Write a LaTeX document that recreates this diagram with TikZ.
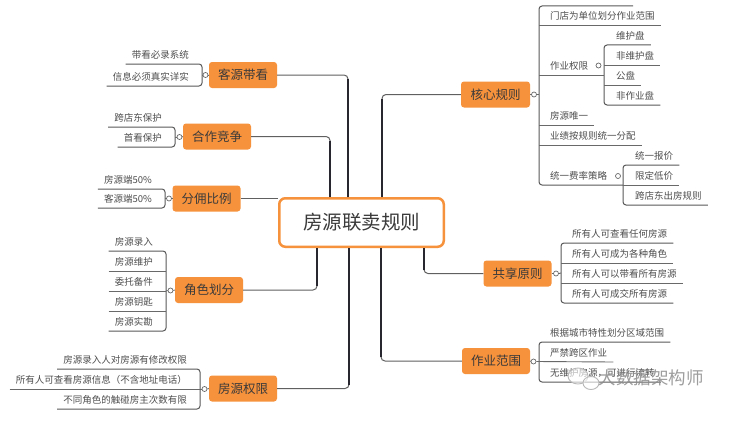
\documentclass[tikz,border=0pt]{standalone}
\usepackage{fontspec}
\newfontfamily\cjk{Noto Sans CJK SC}
\definecolor{orng}{RGB}{247,146,60}
\definecolor{txt}{RGB}{58,58,58}
\definecolor{leaftxt}{RGB}{78,78,78}
\definecolor{lin}{RGB}{105,105,105}
\definecolor{dark}{RGB}{40,38,46}
\tikzset{
  mainbox/.style={fill=orng, rounded corners=3pt, minimum width=68pt, minimum height=26pt, inner sep=0pt, font=\cjk\fontsize{12.5}{14}\selectfont, text=txt},
  rootbox/.style={draw=orng, line width=2.5pt, fill=white, rounded corners=6pt, minimum width=164.5pt, minimum height=48.5pt, inner sep=0pt, font=\cjk\fontsize{19.5}{22}\selectfont, text=txt},
  leafbase/.style={inner xsep=6pt, inner ysep=4pt, font=\cjk\fontsize{9.5}{11}\selectfont, text=leaftxt, text height=8pt, text depth=1.5pt},
  leafL/.style={leafbase, anchor=south east},
  leafR/.style={leafbase, anchor=south west},
  uline/.style={draw=lin, line width=0.9pt},
  brk/.style={draw=lin!85!black, line width=1pt, rounded corners=3pt},
  hconn/.style={draw=gray!75!black, line width=1pt, rounded corners=4pt},
  vconn/.style={draw=dark, line width=2pt, shorten >=4pt},
  knob/.style={circle, draw=lin, fill=white, line width=0.7pt, minimum size=5pt, inner sep=0pt},
}
\begin{document}
\begin{tikzpicture}[x=1pt,y=-1pt]
\useasboundingbox[fill=white] (0,0) rectangle (754,428);

% root and main topics
\node[rootbox] (root) at (361.5,222.5) {房源联卖规则};
\node[mainbox] (kyd) at (243,75) {客源带看};
\node[mainbox] (hzjz) at (217,136.5) {合作竞争};
\node[mainbox] (fybl) at (206.5,198.5) {分佣比例};
\node[mainbox] (jshf) at (209,290) {角色划分};
\node[mainbox] (fyqx) at (243,388.5) {房源权限};
\node[mainbox,minimum width=69pt] (hxgz) at (495.5,94.5) {核心规则};
\node[mainbox] (gxyz) at (517.5,273.5) {共享原则};
\node[mainbox] (zyfw) at (496,361) {作业范围};

% root connectors
\draw[hconn] ([xshift=-13.5pt]root.north) |- (kyd.east);
\draw[vconn] ([xshift=-13.5pt]root.north) -- ([xshift=-13.5pt]root.north |- kyd.east);
\draw[hconn] ([xshift=-31.5pt]root.north) |- (hzjz.east);
\draw[vconn] ([xshift=-31.5pt]root.north) -- ([xshift=-31.5pt]root.north |- hzjz.east);
\draw[hconn] (fybl.east) -- (fybl.east -| root.west);
\draw[hconn] ([xshift=-44.5pt]root.south) |- (jshf.east);
\draw[vconn] ([xshift=-44.5pt]root.south) -- ([xshift=-44.5pt]root.south |- jshf.east);
\draw[hconn] ([xshift=-12.5pt]root.south) |- (fyqx.east);
\draw[vconn] ([xshift=-12.5pt]root.south) -- ([xshift=-12.5pt]root.south |- fyqx.east);
\draw[hconn] ([xshift=20.5pt]root.north) |- (hxgz.west);
\draw[vconn] ([xshift=20.5pt]root.north) -- ([xshift=20.5pt]root.north |- hxgz.west);
\draw[hconn] ([xshift=62.5pt]root.south) |- (gxyz.west);
\draw[vconn] ([xshift=62.5pt]root.south) -- ([xshift=62.5pt]root.south |- gxyz.west);
\draw[hconn] ([xshift=19.5pt]root.south) |- (zyfw.west);
\draw[vconn] ([xshift=19.5pt]root.south) -- ([xshift=19.5pt]root.south |- zyfw.west);

% ---- 客源带看
\coordinate (kb) at (202,75);
\node[knob] (kk) at (205.5,75) {};
\node[leafL] (k1) at (195,64) {带看必录系统};
\node[leafL] (k2) at (195,86) {信息必须真实详实};
\draw[brk] (k1.south west) -- (k1.south -| kb) -- (k2.south -| kb) -- (k2.south west);
\draw[uline] (kb) -- (kk.west);
\draw[uline] (kk.east) -- (kyd.west);

% ---- 合作竞争
\coordinate (hb) at (175,137);
\node[knob] (hk) at (179.5,137) {};
\node[leafL] (c1) at (168,127) {跨店东保护};
\node[leafL] (c2) at (168,147) {首看保护};
\draw[brk] (c1.south west) -- (c1.south -| hb) -- (c2.south -| hb) -- (c2.south west);
\draw[uline] (hb) -- (hk.west);
\draw[uline] (hk.east) -- (hzjz.west);

% ---- 分佣比例
\coordinate (fb) at (165,198.5);
\node[knob] (fk) at (169,198.5) {};
\node[leafL] (f1) at (158,189) {房源端50\%};
\node[leafL] (f2) at (158,208) {客源端50\%};
\draw[brk] (f1.south west) -- (f1.south -| fb) -- (f2.south -| fb) -- (f2.south west);
\draw[uline] (fb) -- (fk.west);
\draw[uline] (fk.east) -- (fybl.west);

% ---- 角色划分
\coordinate (jb) at (166,291);
\node[knob] (jk) at (170.5,290.5) {};
\node[leafL] (j1) at (159,251) {房源录入};
\node[leafL] (j2) at (159,271) {房源维护};
\node[leafL] (j3) at (159,291) {委托备件};
\node[leafL] (j4) at (159,311) {房源钥匙};
\node[leafL] (j5) at (159,331) {房源实勘};
\draw[brk] (j1.south west) -- (j1.south -| jb) -- (j5.south -| jb) -- (j5.south west);
\draw[uline] (j2.south west) -- (j2.south -| jb);
\draw[uline] (j3.south west) -- (j3.south -| jb);
\draw[uline] (j4.south west) -- (j4.south -| jb);
\draw[uline] (jb) -- (jk.west);
\draw[uline] (jk.east) -- (jshf.west);

% ---- 房源权限
\coordinate (qb) at (200,389);
\node[knob] (qk) at (204.5,389) {};
\node[leafL] (q1) at (193,369) {房源录入人对房源有修改权限};
\node[leafL] (q2) at (193,389) {所有人可查看房源信息（不含地址电话）};
\node[leafL] (q3) at (193,409) {不同角色的触碰房主次数有限};
\draw[brk] (q1.south west) -- (q1.south -| qb) -- (q3.south -| qb) -- (q3.south west);
\draw[uline] (q2.south west) -- (qk.west);
\draw[uline] (qk.east) -- (fyqx.west);

% ---- 核心规则
\coordinate (rb) at (539,94.5);
\node[knob] (rk) at (534,94.5) {};
\coordinate (r0) at (633,6);
\node[leafR] (r1) at (544,25) {门店为单位划分作业范围};
\node[leafR] (r2) at (544,75) {作业权限};
\node[leafR] (r3) at (544,125) {房源唯一};
\node[leafR] (r4) at (544,145) {业绩按规则统一分配};
\node[leafR] (r5) at (544,185) {统一费率策略};
\coordinate (zb) at (604,75);
\coordinate (sb) at (623,185);
\draw[brk] (r0) -- (r0 -| rb) -- (r5.south -| rb) -- (sb);
\draw[uline] (r1.south -| rb) -- (r1.south east);
\draw[uline] (r2.south -| rb) -- (zb);
\draw[uline] (r3.south -| rb) -- (r3.south east);
\draw[uline] (r4.south -| rb) -- (r4.south east);
\draw[uline] (hxgz.east) -- (rk.west);
\draw[uline] (rk.east) -- (rb);
% 作业权限 children
\node[knob] (zk) at (598.5,65.5) {};
\node[leafR] (z1) at (610,45) {维护盘};
\node[leafR] (z2) at (610,65) {非维护盘};
\node[leafR] (z3) at (610,85) {公盘};
\node[leafR] (z4) at (610,105) {非作业盘};
\draw[brk] (z1.south east) -- (z1.south -| zb) -- (z4.south -| zb) -- (z4.south east);
\draw[uline] (z2.south -| zb) -- (z2.south east);
\draw[uline] (z3.south -| zb) -- (z3.south east);
% 统一费率策略 children
\node[knob] (sk) at (618,176) {};
\node[leafR] (s1) at (629,165) {统一报价};
\node[leafR] (s2) at (629,185) {限定低价};
\node[leafR] (s3) at (629,205) {跨店东出房规则};
\draw[brk] (s1.south east) -- (s1.south -| sb) -- (s3.south -| sb) -- (s3.south east);
\draw[uline] (s2.south -| sb) -- (s2.south east);

% ---- 共享原则
\coordinate (gb) at (561,273);
\node[knob] (gk) at (556,273.5) {};
\node[leafR] (g1) at (566,243) {所有人可查看任何房源};
\node[leafR] (g2) at (566,263) {所有人可成为各种角色};
\node[leafR] (g3) at (566,283) {所有人可以带看所有房源};
\node[leafR] (g4) at (566,303) {所有人可成交所有房源};
\draw[brk] (g1.south east) -- (g1.south -| gb) -- (g4.south -| gb) -- (g4.south east);
\draw[uline] (g2.south -| gb) -- (g2.south east);
\draw[uline] (g3.south -| gb) -- (g3.south east);
\draw[uline] (gxyz.east) -- (gk.west);
\draw[uline] (gk.east) -- (gb);

% ---- 作业范围
\coordinate (wb) at (539,362);
\node[knob] (wk) at (533.5,361.5) {};
\node[leafR] (w1) at (544,342) {根据城市特性划分区域范围};
\node[leafR] (w2) at (544,362) {严禁跨区作业};
\node[leafR] (w3) at (544,382) {无维护房源，可进行流转};
\draw[brk] (w1.south east) -- (w1.south -| wb) -- (w3.south -| wb) -- (w3.south east);
\draw[uline] (wk.east) -- (w2.south east);
\draw[uline] (zyfw.east) -- (wk.west);

% ---- watermark
\draw[gray!55, line width=0.9pt, fill=white, fill opacity=0.6] (578,376) ellipse (10pt and 8pt);
\draw[gray!55, line width=0.9pt, fill=white, fill opacity=0.6] (591,383) ellipse (8pt and 6.5pt);
\node[font=\cjk\fontsize{17.5}{20}\selectfont, text=gray!90, opacity=0.85] (wm) at (651,378) {大数据架构师};
\end{tikzpicture}
\end{document}
